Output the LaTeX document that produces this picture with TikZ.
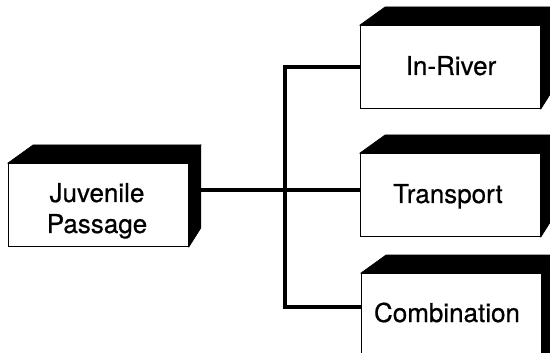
\documentclass[tikz,border=0pt]{standalone}
\usepackage{fontspec}
\setmainfont{TeX Gyre Heros}[FakeBold=0.6]
\usetikzlibrary{calc}
\pgfdeclarehorizontalshading{topsh}{100bp}{color(0bp)=(black); color(78bp)=(black); color(100bp)=(black!40)}
\pgfdeclareverticalshading{sidesh}{100bp}{color(0bp)=(black); color(75bp)=(black); color(100bp)=(black!40)}
\tikzset{
  frontbox/.style={draw=black, line width=0.9pt, fill=white, rectangle, anchor=north west,
    minimum width=180pt, minimum height=83pt, inner sep=0pt, align=center,
    font=\fontsize{26}{31}\selectfont},
  boxlabel/.style={font=\fontsize{26}{31}\selectfont, inner sep=0pt, align=center},
  topface/.style={shading=topsh, draw=black, line width=0.6pt},
  sideface/.style={shading=sidesh, draw=black, line width=0.6pt},
  conn/.style={line width=4.5pt, line join=miter, black}
}
\newcommand{\boxfaces}[1]{%
  \path[topface] (#1.north west) -- ++(25,-18) -- ($(#1.north east)+(12,-18)$) -- (#1.north east) -- cycle;
  \path[sideface] (#1.north east) -- ++(12,-18) -- ($(#1.south east)+(12,-19)$) -- (#1.south east) -- cycle;
}
\begin{document}
\begin{tikzpicture}[x=1pt,y=-1pt]
\useasboundingbox (0,0) rectangle (550,353);
\begin{scope}
\clip (0,0) rectangle (550,353);
% connectors
\coordinate (jpout) at (200,190);
\coordinate (hubtop) at (285,67);
\coordinate (hubbot) at (285,307);
\coordinate (irin) at (361,67);
\coordinate (trin) at (361,190);
\coordinate (cbin) at (361,307);
\draw[conn] (irin) -- (hubtop) -- (hubbot) -- (cbin);
\draw[conn] (jpout) -- (trin);
% boxes
\node[frontbox] (jp) at (8,163) {};
\boxfaces{jp}
\node[boxlabel, anchor=base] (jpt) at (97,233) {Juvenile\\Passage};
\node[frontbox] (ir) at (360,25) {};
\boxfaces{ir}
\node[boxlabel, anchor=base] (irt) at (451,75) {In-River};
\node[frontbox] (tr) at (360,153) {};
\boxfaces{tr}
\node[boxlabel, anchor=base] (trt) at (448,203) {Transport};
\node[frontbox, minimum height=100pt] (cb) at (361,273) {};
\boxfaces{cb}
\node[boxlabel, anchor=base] (cbt) at (447,322) {Combination};
\end{scope}
\end{tikzpicture}
\end{document}
